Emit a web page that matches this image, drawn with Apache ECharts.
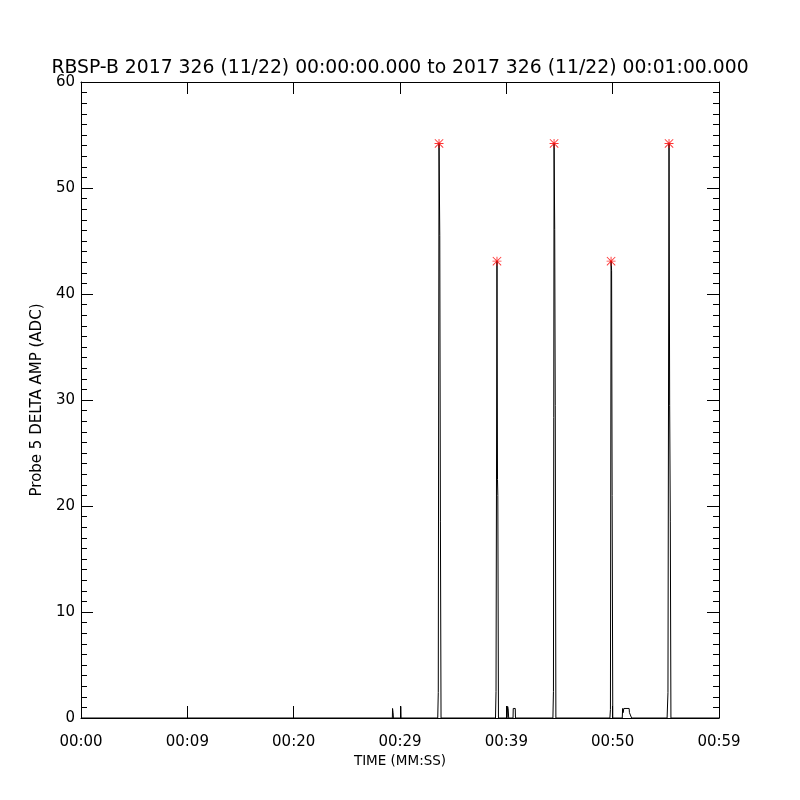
<!DOCTYPE html>
<html>
<head>
<meta charset="utf-8">
<script src="https://cdn.jsdelivr.net/npm/echarts@6/dist/echarts.min.js"></script>
<style>html,body{margin:0;padding:0;background:#fff}#c{width:800px;height:800px}</style>
</head>
<body>
<div id="c"></div>
<script>
// Time in seconds from 00:00:00, amplitude in ADC
var times = [0, 29.28, 29.30, 29.35, 29.38, 30.05, 30.07, 30.10,
  33.55, 33.60, 33.67, 33.74, 33.80, 33.86,
  38.98, 39.03, 39.12, 39.17, 39.20, 39.26,
  40.08, 40.12, 40.17, 40.22, 40.63, 40.65, 40.84, 40.86,
  44.38, 44.43, 44.49, 44.55, 44.60, 44.66,
  49.74, 49.79, 49.85, 49.90, 49.95, 50.01,
  50.90, 50.94, 50.98, 51.05, 51.55, 51.58, 51.75, 51.78,
  55.12, 55.20, 55.30, 55.36, 55.42, 55.48, 60];
var amps = [0, 0, 0.9, 0.5, 0, 0, 1.1, 0,
  0, 2.4, 54.2, 45.5, 18.5, 0,
  0, 2.5, 43.1, 22.5, 21, 0,
  0, 1.1, 0.9, 0, 0, 0.9, 0.9, 0,
  0, 2.5, 54.2, 46.1, 29.5, 0,
  0, 0.8, 43.1, 42.2, 21, 0,
  0, 0.9, 0.5, 0.9, 0.9, 0.5, 0.5, 0,
  0, 2.4, 54.2, 29.5, 18.5, 0, 0];
var peakTimes = [33.67, 39.12, 44.49, 49.85, 55.30];
var peakAmps = [54.2, 43.1, 54.2, 43.1, 54.2];
var xTickLabels = ['00:00', '00:09', '00:20', '00:29', '00:39', '00:50', '00:59'];
var yTicks = [0, 10, 20, 30, 40, 50, 60];

var lineData = times.map(function (t, i) { return [t, amps[i]]; });
var peakData = peakTimes.map(function (t, i) { return [t, peakAmps[i]]; });
var FONT = 'DejaVu Sans';
var asterisk = 'path://M4.5 0L5.5 0L5.5 10L4.5 10Z M0 4.5L10 4.5L10 5.5L0 5.5Z M0.7 0L10 9.3L9.3 10L0 0.7Z M9.3 0L10 0.7L0.7 10L0 9.3Z';

var chart = echarts.init(document.getElementById('c'), null, {renderer: 'canvas'});
function xAxisDef(pos) {
  return {
    type: 'value', min: 0, max: 60, interval: 10, position: pos,
    axisLine: {show: true, onZero: false, lineStyle: {color: '#000', width: 1}},
    axisTick: {show: true, inside: true, length: 12, lineStyle: {color: '#000'}},
    splitLine: {show: false}
  };
}
function yAxisDef(pos) {
  return {
    type: 'value', min: yTicks[0], max: yTicks[yTicks.length - 1], interval: 10, position: pos,
    axisLine: {show: true, onZero: false, lineStyle: {color: '#000', width: 1}},
    axisTick: {show: true, inside: true, length: 12, lineStyle: {color: '#000'}},
    minorTick: {show: true, splitNumber: 10, length: 6, lineStyle: {color: '#000'}},
    splitLine: {show: false}
  };
}
var xb = xAxisDef('bottom');
xb.name = 'TIME (MM:SS)'; xb.nameLocation = 'middle'; xb.nameGap = 33;
xb.nameTextStyle = {fontFamily: FONT, fontSize: 13.5, color: '#000'};
xb.axisLabel = {margin: 17, color: '#000', fontFamily: FONT, fontSize: 15,
  formatter: function (v) { return xTickLabels[Math.round(v / 10)]; }};
var xt = xAxisDef('top'); xt.axisLabel = {show: false};
var yl = yAxisDef('left');
yl.name = 'Probe 5 DELTA AMP (ADC)'; yl.nameLocation = 'middle'; yl.nameGap = 27;
yl.nameTextStyle = {fontFamily: FONT, fontSize: 15, color: '#000'};
yl.axisLabel = {margin: 6, color: '#000', fontFamily: FONT, fontSize: 15};
var yr = yAxisDef('right'); yr.axisLabel = {show: false};

chart.setOption({
  animation: false,
  backgroundColor: '#fff',
  title: {
    text: 'RBSP-B 2017 326 (11/22) 00:00:00.000 to 2017 326 (11/22) 00:01:00.000',
    left: 'center', top: 54,
    textStyle: {fontFamily: FONT, fontSize: 18.8, fontWeight: 'normal', color: '#000'}
  },
  grid: {left: 81, right: 81, top: 82, bottom: 82},
  xAxis: [xb, xt],
  yAxis: [yl, yr],
  series: [
    {
      type: 'line', xAxisIndex: 0, yAxisIndex: 0, data: lineData,
      showSymbol: false, symbol: 'none',
      lineStyle: {color: '#000', width: 1}, z: 2
    },
    {
      type: 'scatter', xAxisIndex: 0, yAxisIndex: 0, data: peakData,
      symbol: asterisk, symbolSize: 9,
      itemStyle: {color: '#ff0000'}, z: 3
    }
  ]
});
</script>
</body>
</html>
